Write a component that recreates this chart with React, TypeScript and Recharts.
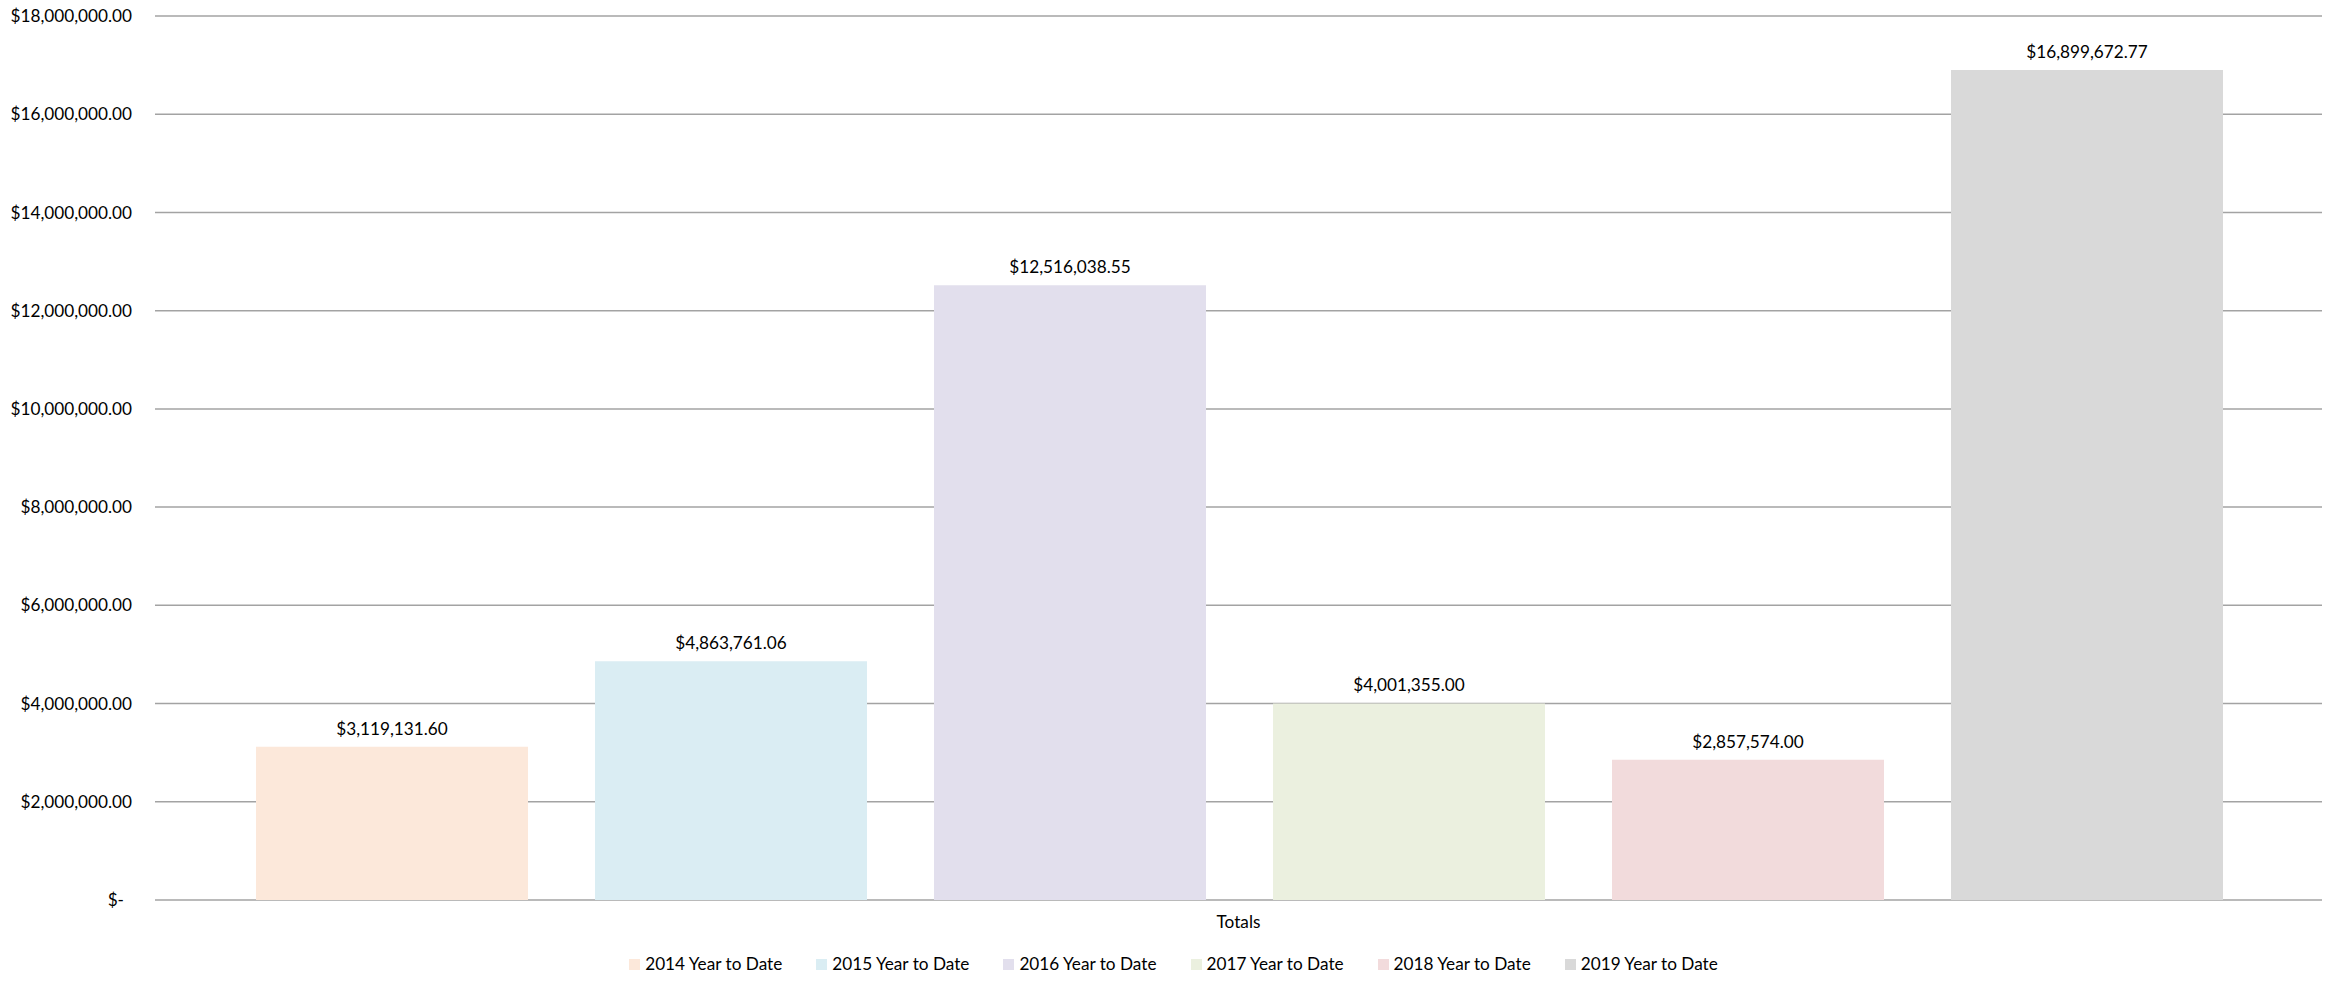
import React from 'react'
import { BarChart, Bar, XAxis, YAxis, CartesianGrid, Legend, LabelList } from 'recharts'

const categories = ['Totals']
const seriesNames = [
  '2014 Year to Date',
  '2015 Year to Date',
  '2016 Year to Date',
  '2017 Year to Date',
  '2018 Year to Date',
  '2019 Year to Date',
]
const seriesValues = [3119131.6, 4863761.06, 12516038.55, 4001355.0, 2857574.0, 16899672.77]
const yTicks = [0, 2000000, 4000000, 6000000, 8000000, 10000000, 12000000, 14000000, 16000000, 18000000]

const barColors = ['#fce8da', '#daedf3', '#e2dfed', '#ebf0df', '#f2dbdc', '#d9d9d9']
const FONT = 'Lato, "Open Sans", sans-serif'
const FS = 17.2

const keyFor = (i: number) => `s${i}`

// one row per category, one key per series
const data = categories.map((c) => {
  const row: Record<string, string | number> = { category: c }
  seriesValues.forEach((v, i) => {
    row[keyFor(i)] = v
  })
  return row
})

const money = (v: number) =>
  v === 0 ? '$-' : '$' + v.toLocaleString('en-US', { minimumFractionDigits: 2, maximumFractionDigits: 2 })

function YTick(props: any) {
  const { x, y, payload } = props
  const zero = payload.value === 0
  return (
    <text
      x={x - (zero ? 8 : 0)}
      y={y}
      dy="0.355em"
      textAnchor="end"
      fontSize={FS}
      fontFamily={FONT}
      fill="#000"
    >
      {money(payload.value)}
    </text>
  )
}

function XTick(props: any) {
  const { x, y, payload } = props
  return (
    <text x={x} y={y} dy="0.71em" textAnchor="middle" fontSize={FS} fontFamily={FONT} fill="#000">
      {payload.value}
    </text>
  )
}

function LegendContent() {
  return (
    <div
      style={{
        display: 'flex',
        justifyContent: 'center',
        alignItems: 'flex-start',
        paddingTop: 14,
        paddingLeft: 22,
        height: 38,
        fontFamily: FONT,
        fontSize: FS,
        lineHeight: '20px',
        color: '#000',
      }}
    >
      {seriesNames.map((name, i) => (
        <div key={name} style={{ display: 'flex', alignItems: 'center', height: 20, marginRight: i < seriesNames.length - 1 ? 34 : 0 }}>
          <span style={{ width: 11, height: 11, background: barColors[i], marginRight: 5, display: 'inline-block' }} />
          <span>{name}</span>
        </div>
      ))}
    </div>
  )
}

export default function App() {
  return (
    <div style={{ position: 'absolute', left: 0, top: 0, width: 2325, height: 992, background: '#fff', fontFamily: FONT }}>
      <BarChart
        width={2325}
        height={992}
        data={data}
        margin={{ top: 16, right: 3, bottom: 0, left: 0 }}
        barCategoryGap={101}
        barGap={67}
      >
        <CartesianGrid vertical={false} stroke="#a3a3a3" strokeWidth={1.5} />
        <XAxis
          dataKey="category"
          height={40}
          tickLine={false}
          axisLine={false}
          tickSize={6}
          tickMargin={10}
          tick={<XTick />}
        />
        <YAxis
          width={155}
          domain={[0, 18000000]}
          ticks={yTicks}
          interval={0}
          tickLine={false}
          axisLine={false}
          tickSize={6}
          tickMargin={17}
          tick={<YTick />}
        />
        <Legend
          verticalAlign="bottom"
          content={<LegendContent />}
          wrapperStyle={{ left: 0, width: 2325, height: 52 }}
        />
        {seriesNames.map((name, i) => (
          <Bar key={name} name={name} dataKey={keyFor(i)} fill={barColors[i]} isAnimationActive={false}>
            <LabelList
              dataKey={keyFor(i)}
              position="top"
              offset={12}
              formatter={(v: any) => money(Number(v))}
              style={{ fontSize: FS, fontFamily: FONT, fill: '#000' }}
            />
          </Bar>
        ))}
      </BarChart>
    </div>
  )
}
